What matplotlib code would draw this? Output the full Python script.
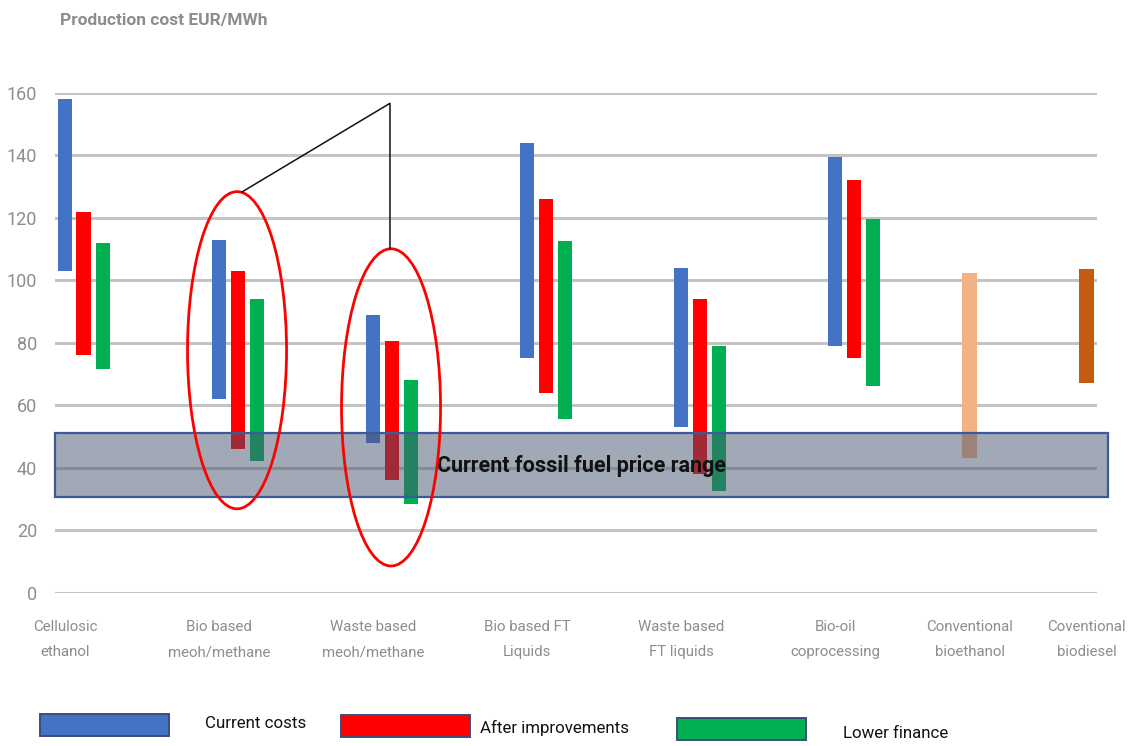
import matplotlib
matplotlib.use("Agg")
import matplotlib.pyplot as plt
import matplotlib.transforms as mtransforms
from matplotlib.patches import Rectangle, Ellipse
from matplotlib import font_manager
import numpy as np

# ---- data -------------------------------------------------------------
categories = ["Cellulosic\nethanol", "Bio based\nmeoh/methane", "Waste based\nmeoh/methane",
              "Bio based FT\nLiquids", "Waste based\nFT liquids", "Bio-oil\ncoprocessing",
              "Conventional\nbioethanol", "Coventional\nbiodiesel"]

# (low, high) production cost ranges, EUR/MWh, for the six advanced routes
current_low = [103, 62, 48, 75, 53, 79]
current_high = [158, 113, 89, 144, 104, 139.5]
improved_low = [76, 46, 36, 64, 38, 75]
improved_high = [122, 103, 80.5, 126, 94, 132]
finance_low = [71.5, 42, 28.5, 55.5, 32.5, 66]
finance_high = [112, 94, 68, 112.5, 79, 119.5]

# conventional fuels
conv_labels = ["Conventional bioethanol", "Coventional biodiesel"]
conv_low = [43, 67]
conv_high = [102.5, 103.5]

fossil_low, fossil_high = 30.5, 51
series_names = ["Current costs", "After improvements", "Lower finance"]
y_ticks = [0, 20, 40, 60, 80, 100, 120, 140, 160]

# ---- fonts ------------------------------------------------------------
def pick(*names):
    for n in names:
        try:
            font_manager.findfont(n, fallback_to_default=False)
            return n
        except Exception:
            continue
    return "DejaVu Sans"

NARROW = pick("Liberation Sans Narrow", "DejaVu Sans Condensed", "Roboto", "DejaVu Sans")

# ---- layout -----------------------------------------------------------
W, H = 1129, 746
fig = plt.figure(figsize=(W / 100, H / 100), dpi=100)
ax = fig.add_axes([55 / W, (H - 592.5) / H, (1097 - 55) / W, (592.5 - 93) / H])

group_x = np.array([0, 1, 2, 3, 4, 5], dtype=float)
conv_x = np.array([5.753, 6.51])
offset = 0.123
bw = 0.088

c_blue, c_red, c_green = "#4472C4", "#FF0000", "#00B050"
c_conv = ["#F4B183", "#C55A11"]

def ranges(x, lo, hi, color, width):
    lo = np.asarray(lo, float)
    hi = np.asarray(hi, float)
    ax.bar(x, hi - lo, bottom=lo, width=width, color=color, zorder=3, linewidth=0)

ranges(group_x - offset, current_low, current_high, c_blue, bw)
ranges(group_x, improved_low, improved_high, c_red, bw * 1.1)
ranges(group_x + offset, finance_low, finance_high, c_green, bw)
for xi, lo, hi, col in zip(conv_x, conv_low, conv_high, c_conv):
    ranges([xi], [lo], [hi], col, bw * 1.1)

ax.set_xlim(-0.188, 6.578)
ax.set_ylim(0, 160)
ax.set_yticks(y_ticks)
ax.yaxis.grid(True, color="#c4c4c4", linewidth=2.2, zorder=0)
ax.set_axisbelow(True)
for s in ax.spines.values():
    s.set_visible(False)
ax.tick_params(axis="y", length=0, pad=13, labelsize=13, labelcolor="#8d8d8d")
for t in ax.get_yticklabels():
    t.set_fontfamily(NARROW)

label_x = list(group_x - offset) + list(conv_x)
ax.set_xticks(label_x)
ax.set_xticklabels(categories, fontsize=10.8, color="#8d8d8d", family=NARROW,
                   linespacing=2.0)
ax.tick_params(axis="x", length=0, pad=20)

# fossil fuel price band, extending slightly past the plot
band_tr = mtransforms.blended_transform_factory(ax.transAxes, ax.transData)
band = Rectangle((0, fossil_low), (1108 - 55) / (1097 - 55), fossil_high - fossil_low,
                 transform=band_tr, facecolor=(70 / 255, 85 / 255, 110 / 255, 0.5),
                 edgecolor="#3A5A9A", linewidth=1.6, zorder=5, clip_on=False)
ax.add_patch(band)
ax.text(3.23, (fossil_low + fossil_high) / 2 - 0.3, "Current fossil fuel price range",
        ha="center", va="center", fontsize=15.5, fontweight="bold", color="#111111",
        family=NARROW, zorder=6)

# highlight ellipses and callout
for cx, cy in [(0.994, 77.6), (1.994, 59.3)]:
    ax.add_patch(Ellipse((cx, cy), 0.643, 101.6, fill=False, edgecolor="#FF0000",
                         linewidth=2.0, zorder=7))
ax.plot([1.026, 1.987, 1.987], [128.3, 156.7, 110.1], color="#111111",
        linewidth=1.1, zorder=7, clip_on=False)

# title
fig.text(60 / W, 1 - 21 / H, "Production cost EUR/MWh", ha="left", va="center",
         fontsize=12.5, fontweight="bold", color="#8d8d8d", family=NARROW)

# legend row
legend_items = [
    (series_names[0], c_blue, 40, 714, 205, 723),
    (series_names[1], c_red, 341, 715, 480, 728),
    (series_names[2], c_green, 677, 718, 843, 733),
]
for name, col, px, py, tx, ty in legend_items:
    fig.patches.append(Rectangle((px / W, 1 - (py + 22) / H), 129 / W, 22 / H,
                                 transform=fig.transFigure, facecolor=col,
                                 edgecolor="#3B4E7A", linewidth=1.4))
    fig.text(tx / W, 1 - ty / H, name, ha="left", va="center", fontsize=12.2,
             color="#111111", family=NARROW)

fig.savefig("out.png", dpi=100, facecolor="white")
